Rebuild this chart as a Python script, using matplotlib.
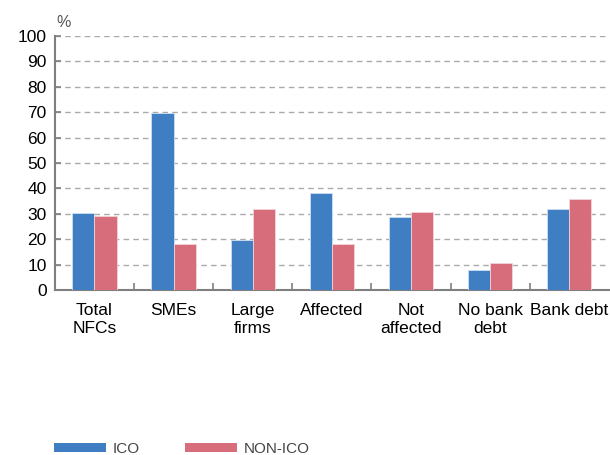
import matplotlib
matplotlib.use("Agg")
import matplotlib.pyplot as plt
import numpy as np
from matplotlib.patches import Patch

categories = ["Total\nNFCs", "SMEs", "Large\nfirms", "Affected", "Not\naffected", "No bank\ndebt", "Bank debt"]
ico = [30.3, 69.8, 19.7, 38.3, 28.6, 7.7, 31.8]
non_ico = [29.0, 18.0, 32.0, 18.2, 30.8, 10.6, 35.7]
series_names = ["ICO", "NON-ICO"]
yticks = list(range(0, 101, 10))

plt.rcParams["font.family"] = ["Liberation Sans", "DejaVu Sans"]

blue = "#3F7EC3"
pink = "#D76C7B"
axis_grey = "#7f7f7f"

fig = plt.figure(figsize=(6.1, 4.55), dpi=100)
ax = fig.add_axes([0.090, 0.3626, 0.908, 0.5583])

x = np.arange(len(categories))
w = 0.28
ax.bar(x - w / 2, ico, width=w, color=blue, edgecolor="#cfe0f3", linewidth=0.6, zorder=3)
ax.bar(x + w / 2, non_ico, width=w, color=pink, edgecolor="#f3d3d8", linewidth=0.6, zorder=3)

ax.set_xlim(-0.5, len(categories) - 0.5)
ax.set_ylim(0, 100)
ax.set_yticks(yticks)
ax.set_yticklabels([str(v) for v in yticks], fontsize=12.5)
ax.yaxis.grid(True, linestyle=(0, (4, 3)), color="#aaaaaa", linewidth=1.0, zorder=0)
ax.tick_params(axis="y", direction="in", length=4, width=1.2, color=axis_grey, pad=6)

# category labels as minor ticks, group boundary marks as major ticks
ax.set_xticks(np.arange(0.5, len(categories) - 1, 1.0))
ax.set_xticklabels([])
ax.tick_params(axis="x", which="major", direction="in", length=5, width=1.2, color=axis_grey)
ax.set_xticks(x, minor=True)
ax.set_xticklabels(categories, minor=True, fontsize=12.5, linespacing=1.28)
ax.tick_params(axis="x", which="minor", length=0, pad=9)

for side in ("top", "right"):
    ax.spines[side].set_visible(False)
for side in ("left", "bottom"):
    ax.spines[side].set_color(axis_grey)
    ax.spines[side].set_linewidth(1.5)

fig.text(0.093, 0.951, "%", fontsize=11.5, color="#555555", ha="left", va="center")

handles = [Patch(facecolor=blue, edgecolor="none"), Patch(facecolor=pink, edgecolor="none")]
leg = fig.legend(handles, series_names, loc="center left", bbox_to_anchor=(0.079, 0.014),
                 ncol=2, frameon=False, handlelength=3.4, handleheight=0.52,
                 handletextpad=0.4, columnspacing=3.0, borderaxespad=0.0,
                 prop={"size": 11})
for t in leg.get_texts():
    t.set_color("#444444")

fig.savefig("out.png", dpi=100)
